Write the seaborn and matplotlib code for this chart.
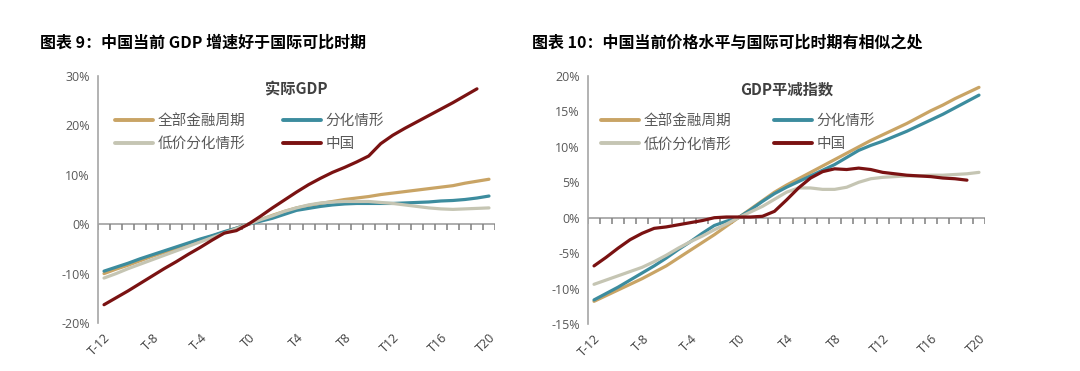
import numpy as np
import pandas as pd
import matplotlib
matplotlib.use('Agg')
import matplotlib.pyplot as plt
import seaborn as sns

# categories T-12 .. T20
periods = list(range(-12, 21))
tick_pos = [-12, -8, -4, 0, 4, 8, 12, 16, 20]
tick_labels = ['T-12', 'T-8', 'T-4', 'T0', 'T4', 'T8', 'T12', 'T16', 'T20']

# chart 9: real GDP (%), China stops at T19
gdp_all = [-10.0, -9.1, -8.3, -7.4, -6.5, -5.7, -4.9, -4.0, -3.2, -2.4, -1.6, -0.8, 0.0,
           0.9, 1.8, 2.6, 3.3, 3.8, 4.2, 4.6, 5.0, 5.3, 5.6, 6.0, 6.3, 6.6, 6.9,
           7.2, 7.5, 7.8, 8.3, 8.7, 9.1]
gdp_split = [-9.5, -8.7, -7.9, -7.0, -6.2, -5.4, -4.6, -3.8, -3.0, -2.3, -1.5, -0.8, 0.0,
             0.6, 1.2, 2.0, 2.8, 3.2, 3.6, 3.9, 4.1, 4.2, 4.2, 4.2, 4.2, 4.3, 4.4,
             4.5, 4.7, 4.8, 5.0, 5.3, 5.7]
gdp_lowprice = [-10.9, -10.0, -9.0, -8.1, -7.2, -6.3, -5.4, -4.5, -3.6, -2.7, -1.8, -0.9, 0.0,
                0.9, 1.7, 2.6, 3.3, 3.9, 4.3, 4.5, 4.6, 4.6, 4.6, 4.4, 4.2, 3.9, 3.6,
                3.3, 3.1, 3.0, 3.1, 3.2, 3.3]
gdp_china = [-16.3, -14.9, -13.5, -12.0, -10.5, -9.0, -7.6, -6.1, -4.7, -3.2, -1.8, -1.3, 0.0,
             1.6, 3.3, 4.9, 6.5, 8.0, 9.3, 10.5, 11.5, 12.6, 13.8, 16.3, 18.0, 19.4, 20.7,
             22.0, 23.3, 24.6, 26.0, 27.4, np.nan]

# chart 10: GDP deflator (%)
defl_all = [-11.8, -11.0, -10.2, -9.4, -8.6, -7.7, -6.8, -5.7, -4.6, -3.5, -2.4, -1.2, 0.0,
            1.2, 2.4, 3.6, 4.6, 5.5, 6.4, 7.3, 8.2, 9.1, 10.0, 10.9, 11.7, 12.5, 13.3,
            14.2, 15.1, 15.9, 16.8, 17.6, 18.4]
defl_split = [-11.6, -10.7, -9.8, -8.8, -7.8, -6.8, -5.7, -4.5, -3.4, -2.2, -1.1, -0.5, 0.0,
              1.1, 2.3, 3.4, 4.3, 5.1, 5.9, 6.7, 7.5, 8.5, 9.5, 10.2, 10.8, 11.5, 12.2,
              13.0, 13.8, 14.6, 15.5, 16.4, 17.3]
defl_lowprice = [-9.4, -8.8, -8.2, -7.6, -7.0, -6.2, -5.3, -4.3, -3.4, -2.6, -1.7, -0.9, 0.0,
                 0.8, 1.6, 2.6, 3.6, 4.2, 4.2, 4.0, 4.0, 4.3, 5.0, 5.5, 5.7, 5.8, 5.9,
                 5.9, 6.0, 6.0, 6.1, 6.2, 6.4]
defl_china = [-6.8, -5.6, -4.3, -3.1, -2.2, -1.5, -1.3, -1.0, -0.7, -0.4, 0.0, 0.1, 0.1,
              0.1, 0.2, 0.9, 2.5, 4.2, 5.6, 6.5, 6.9, 6.8, 7.0, 6.8, 6.4, 6.2, 6.0,
              5.9, 5.8, 5.6, 5.5, 5.3, np.nan]

names = ['全部金融周期', '分化情形', '低价分化情形', '中国']
colors = ['#C9A465', '#3C8C9E', '#C5C5B3', '#7A1212']

sns.set_theme(style='white')
plt.rcParams['font.family'] = ['Open Sans', 'Noto Sans CJK SC', 'DejaVu Sans']
cjk = ['Noto Sans CJK SC', 'DejaVu Sans']

fig = plt.figure(figsize=(10.8, 3.71), dpi=100)
ax1 = fig.add_axes([98 / 1080, 1 - 323 / 371, 397 / 1080, 247 / 371])
ax2 = fig.add_axes([588 / 1080, 1 - 324 / 371, 397 / 1080, 248 / 371])


def draw(ax, series, ylim, ystep, inner_title, leg_x, colsp):
    df = pd.DataFrame({'period': periods})
    for n, s in zip(names, series):
        df[n] = s
    long = df.melt(id_vars='period', var_name='series', value_name='value').dropna()
    sns.lineplot(data=long, x='period', y='value', hue='series', hue_order=names,
                 palette=colors, linewidth=2.3, ax=ax, legend=False)
    ax.set_xlim(-12.5, 20.5)
    ax.set_ylim(*ylim)
    ax.set_xlabel('')
    ax.set_ylabel('')
    for s in ['top', 'right', 'bottom']:
        ax.spines[s].set_visible(False)
    ax.spines['left'].set_color('#A6A6A6')
    ax.spines['left'].set_linewidth(1.2)
    # category axis crossing at 0 with small tick marks between categories
    ax.axhline(0, color='#A0A0A0', linewidth=1.2, zorder=1)
    tick_len = 0.025 * (ylim[1] - ylim[0])
    ax.vlines(np.arange(-12.5, 21, 1), -tick_len, 0, color='#7F7F7F', linewidth=1.1, zorder=1.5)
    yt = np.arange(ylim[0], ylim[1] + 0.1, ystep)
    ax.set_yticks(yt)
    ax.set_yticklabels([f'{int(v)}%' for v in yt], fontsize=9, color='#595959')
    ax.tick_params(axis='y', length=0, pad=6)
    ax.set_xticks(tick_pos)
    ax.set_xticklabels(tick_labels, rotation=45, ha='right', rotation_mode='anchor',
                       fontsize=9, color='#404040')
    ax.tick_params(axis='x', length=0, pad=6)
    ax.text(0.5, 0.945, inner_title, transform=ax.transAxes, ha='center', va='center',
            fontsize=11, fontweight='bold', color='#404040', family=cjk)
    # legend filled column-first, so reorder to read row-wise like the original
    order = [0, 2, 1, 3]
    handles = [plt.Line2D([], [], color=colors[i], linewidth=2.8) for i in order]
    ax.legend(handles, [names[i] for i in order], ncol=2, loc='upper left',
              bbox_to_anchor=(leg_x, 0.9), frameon=False, handlelength=2.6,
              handletextpad=0.3, columnspacing=colsp, labelspacing=0.65,
              prop={'family': cjk, 'size': 10.5}, labelcolor='#595959')


draw(ax1, [gdp_all, gdp_split, gdp_lowprice, gdp_china], (-20, 30), 10, '实际GDP', 0.01, 2.6)
draw(ax2, [defl_all, defl_split, defl_lowprice, defl_china], (-15, 20), 5, 'GDP平减指数', 0.0, 2.95)

fig.text(40 / 1080, 1 - 43 / 371, '图表 9：中国当前 GDP 增速好于国际可比时期', ha='left', va='center',
         fontsize=11.5, fontweight='bold', color='black', family=cjk)
fig.text(532 / 1080, 1 - 43 / 371, '图表 10：中国当前价格水平与国际可比时期有相似之处', ha='left', va='center',
         fontsize=11.5, fontweight='bold', color='black', family=cjk)

fig.savefig('out.png', dpi=100)
